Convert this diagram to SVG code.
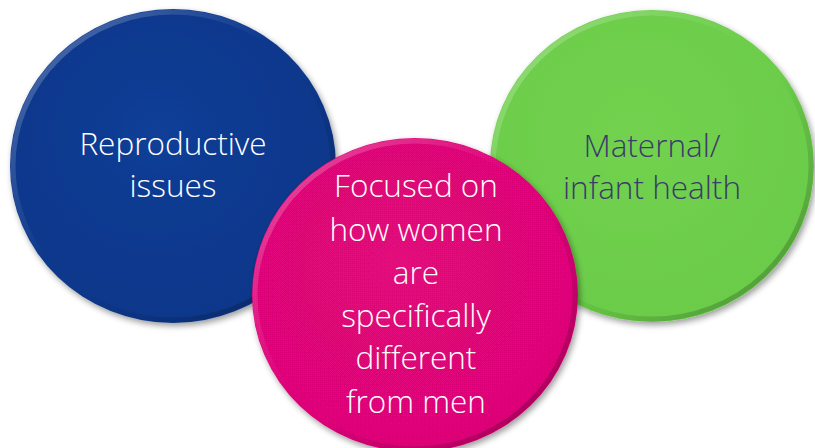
<svg xmlns="http://www.w3.org/2000/svg" width="815" height="448" viewBox="0 0 815 448">
<style>
.lbl{font-family:"Open Sans","Noto Sans","Liberation Sans",sans-serif;font-weight:300;font-size:31.5px;text-anchor:middle}
.w{fill:#ffffff}
.d{fill:#3b3b6b}
</style>
<defs>
<filter id="sh" x="-20%" y="-20%" width="140%" height="140%">
<feGaussianBlur in="SourceAlpha" stdDeviation="3"/>
<feOffset dx="2" dy="3" result="b"/>
<feComponentTransfer><feFuncA type="linear" slope="0.4"/></feComponentTransfer>
<feMerge><feMergeNode/><feMergeNode in="SourceGraphic"/></feMerge>
</filter>
<linearGradient id="bevel" x1="0" y1="0" x2="1" y2="1">
<stop offset="0" stop-color="#ffffff" stop-opacity="0.3"/>
<stop offset="0.45" stop-color="#ffffff" stop-opacity="0"/>
<stop offset="0.55" stop-color="#000000" stop-opacity="0"/>
<stop offset="1" stop-color="#000000" stop-opacity="0.3"/>
</linearGradient>
<radialGradient id="gBlue" cx="0.45" cy="0.4" r="0.6">
<stop offset="0" stop-color="#123d96"/>
<stop offset="1" stop-color="#0d378a"/>
</radialGradient>
<radialGradient id="gGreen" cx="0.45" cy="0.4" r="0.6">
<stop offset="0" stop-color="#72d24f"/>
<stop offset="1" stop-color="#6bcc4a"/>
</radialGradient>
<radialGradient id="gPink" cx="0.45" cy="0.4" r="0.6">
<stop offset="0" stop-color="#e3077b"/>
<stop offset="1" stop-color="#dc0677"/>
</radialGradient>
</defs>
<rect width="815" height="448" fill="#ffffff"/>
<g id="node-blue">
<ellipse cx="173" cy="166" rx="163" ry="157" fill="url(#gBlue)" filter="url(#sh)"/>
<ellipse cx="173" cy="166" rx="160" ry="154" fill="none" stroke="url(#bevel)" stroke-width="5"/>
<text class="lbl w" x="173" y="155">Reproductive</text>
<text class="lbl w" x="173" y="197">issues</text>
</g>
<g id="node-green">
<ellipse cx="652" cy="166" rx="162" ry="156" fill="url(#gGreen)" filter="url(#sh)"/>
<ellipse cx="652" cy="166" rx="159" ry="153" fill="none" stroke="url(#bevel)" stroke-width="5"/>
<text class="lbl d" x="652" y="157">Maternal/</text>
<text class="lbl d" x="652" y="199">infant health</text>
</g>
<g id="node-pink">
<ellipse cx="415" cy="295" rx="163" ry="157" fill="url(#gPink)" filter="url(#sh)"/>
<ellipse cx="415" cy="295" rx="160" ry="154" fill="none" stroke="url(#bevel)" stroke-width="5"/>
<text class="lbl w" x="416" y="197">Focused on</text>
<text class="lbl w" x="416" y="241">how women</text>
<text class="lbl w" x="416" y="284">are</text>
<text class="lbl w" x="416" y="327">specifically</text>
<text class="lbl w" x="416" y="369">different</text>
<text class="lbl w" x="416" y="413">from men</text>
</g>
<g id="connectors"></g>
</svg>
